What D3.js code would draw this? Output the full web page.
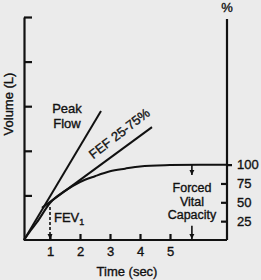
<!DOCTYPE html>
<html>
<meta charset="utf-8">
<head>
<script src="https://d3js.org/d3.v7.min.js"></script>
<style>
  body { margin: 0; background: #ebebeb; }
  text { font-family: "Liberation Sans", Arial, sans-serif; fill: #111; font-size: 13px; stroke: #111; stroke-width: 0.35; }
  .axis path, .axis line { stroke: #111; stroke-width: 2.2; }
</style>
</head>
<body>
<script>
// time (sec) and volume (L)
var curveT = [0, 0.25, 0.5, 1, 1.5, 2, 2.5, 3, 3.5, 4, 5, 6, 6.9];
var curveV = [0, 0.21, 0.40, 0.83, 1.10, 1.30, 1.43, 1.54, 1.60, 1.65, 1.68, 1.69, 1.69];
var peakT = [0, 2.7];
var peakV = [0, 2.89];
var fefT = [0.69, 4.4];
var fefV = [0.72, 2.53];
var timeTicks = [1, 2, 3, 4, 5];
var volTicks = [1, 2, 3, 4, 5];
var pctTicks = [25, 50, 75, 100];
var fev1T = 1;
var fvcT = 5.73;
var fvcTopPct = [100, 85];
var fvcBottomPct = [19, 0];

var W = 261, H = 280;
var svg = d3.select("body").append("svg")
  .attr("width", W)
  .attr("height", H);

// scales
var x = d3.scaleLinear().domain([0, 1, 6.9]).range([24, 50, 227]);
var y = d3.scaleLinear().domain([0, 5]).range([240, 17]);
var maxV = d3.max(curveV);
var yPct = d3.scaleLinear().domain([0, 100]).range([y(0), y(maxV)]);

// arrow head
svg.append("defs").append("marker")
  .attr("id", "arrow")
  .attr("viewBox", "0 0 10 10")
  .attr("refX", 10).attr("refY", 5)
  .attr("markerWidth", 5).attr("markerHeight", 6)
  .attr("markerUnits", "userSpaceOnUse")
  .attr("orient", "auto")
  .append("path")
  .attr("d", "M0,0L10,5L0,10z")
  .attr("fill", "#111");

// left axis
svg.append("g")
  .attr("class", "axis")
  .attr("transform", "translate(" + x(0) + ",0)")
  .call(d3.axisLeft(y).tickValues(volTicks).tickSize(-8).tickSizeOuter(0).tickFormat(""));

// bottom axis
var xAxis = svg.append("g")
  .attr("class", "axis")
  .attr("transform", "translate(0," + y(0) + ")")
  .call(d3.axisBottom(x).tickValues(timeTicks).tickSize(-6).tickSizeOuter(0).tickPadding(7).tickFormat(d3.format("d")));
xAxis.selectAll("text").style("font-size", "13px").attr("fill", "#111");
xAxis.select(".domain").attr("d", "M" + x(0) + ",0H" + x(6.9));

// right axis (%)
var rAxis = svg.append("g")
  .attr("class", "axis")
  .attr("transform", "translate(" + x(6.9) + ",0)")
  .call(d3.axisRight(yPct).tickValues(pctTicks).tickSize(-6).tickPadding(10));
rAxis.select(".domain").attr("d", "M0," + y(0) + "V" + (y(5) + 2));
rAxis.selectAll(".tick").filter(function(d) { return d === 100; })
  .select("line").attr("x2", 5);
rAxis.selectAll("text").style("font-size", "13px").attr("fill", "#111");

svg.append("text")
  .attr("x", x(6.9)).attr("y", 12)
  .attr("text-anchor", "middle")
  .text("%");

var line = d3.line()
  .x(function(d) { return x(d[0]); })
  .y(function(d) { return y(d[1]); });

// volume-time curve
svg.append("path")
  .datum(d3.zip(curveT, curveV))
  .attr("d", line.curve(d3.curveMonotoneX))
  .attr("fill", "none").attr("stroke", "#111").attr("stroke-width", 2);

line.curve(d3.curveLinear);

// peak flow line
svg.append("path")
  .datum(d3.zip(peakT, peakV))
  .attr("d", line)
  .attr("fill", "none").attr("stroke", "#111").attr("stroke-width", 2);

// FEF 25-75% line
svg.append("path")
  .datum(d3.zip(fefT, fefV))
  .attr("d", line)
  .attr("fill", "none").attr("stroke", "#111").attr("stroke-width", 2);

// FEV1 dashed arrow
var fev1V = curveV[curveT.indexOf(fev1T)];
svg.append("line")
  .attr("x1", x(fev1T)).attr("x2", x(fev1T))
  .attr("y1", y(fev1V) + 4).attr("y2", y(0) - 1)
  .attr("stroke", "#111").attr("stroke-width", 1.6)
  .attr("stroke-dasharray", "3,2")
  .attr("marker-end", "url(#arrow)");

// FVC arrows
[fvcTopPct, fvcBottomPct].forEach(function(p) {
  svg.append("line")
    .attr("x1", x(fvcT)).attr("x2", x(fvcT))
    .attr("y1", yPct(p[0])).attr("y2", yPct(p[1]) - 1)
    .attr("stroke", "#111").attr("stroke-width", 1.6)
    .attr("marker-end", "url(#arrow)");
});

// labels
svg.append("text")
  .attr("transform", "translate(13,104) rotate(-90)")
  .attr("text-anchor", "middle")
  .text("Volume (L)");

svg.append("text")
  .attr("x", 127).attr("y", 276)
  .attr("text-anchor", "middle")
  .text("Time (sec)");

var peak = svg.append("text").attr("text-anchor", "middle");
peak.append("tspan").attr("x", 67).attr("y", 113).text("Peak");
peak.append("tspan").attr("x", 67).attr("y", 128).text("Flow");

svg.append("text")
  .attr("transform", "translate(122,137) rotate(-38)")
  .attr("text-anchor", "middle")
  .text("FEF 25-75%");

var fev = svg.append("text").attr("x", 54).attr("y", 222).text("FEV");
fev.append("tspan").attr("dy", 3).style("font-size", "9px").text("1");

var fvc = svg.append("text").attr("text-anchor", "middle").style("font-size", "12.5px");
fvc.append("tspan").attr("x", 192).attr("y", 192).text("Forced");
fvc.append("tspan").attr("x", 192).attr("y", 205.5).text("Vital");
fvc.append("tspan").attr("x", 192).attr("y", 219).text("Capacity");
</script>
</body>
</html>
